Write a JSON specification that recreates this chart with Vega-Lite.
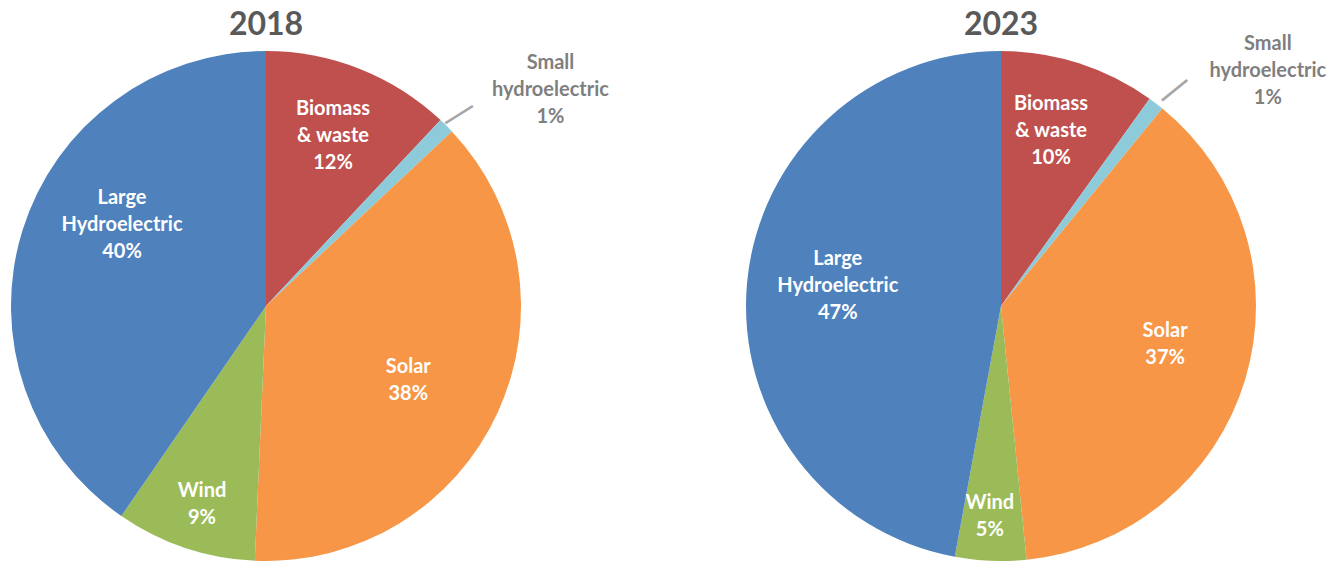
{
  "$schema": "https://vega.github.io/schema/vega-lite/v6.json",
  "padding": {"top": 9, "left": 0, "right": 0, "bottom": 0},
  "bounds": "flush",
  "background": "white",
  "config": {"view": {"stroke": null}, "concat": {"spacing": 203}},
  "datasets": {
    "shares": [
      {"year": "2018", "order": 1, "source": "Biomass & waste", "value": 12.0, "label": "Biomass\n& waste\n12%"},
      {"year": "2018", "order": 2, "source": "Small hydroelectric", "value": 1.0, "label": "Small\nhydroelectric\n1%"},
      {"year": "2018", "order": 3, "source": "Solar", "value": 37.7, "label": "Solar\n38%"},
      {"year": "2018", "order": 4, "source": "Wind", "value": 8.9, "label": "Wind\n9%"},
      {"year": "2018", "order": 5, "source": "Large Hydroelectric", "value": 40.4, "label": "Large\nHydroelectric\n40%"},
      {"year": "2023", "order": 1, "source": "Biomass & waste", "value": 9.9, "label": "Biomass\n& waste\n10%"},
      {"year": "2023", "order": 2, "source": "Small hydroelectric", "value": 1.0, "label": "Small\nhydroelectric\n1%"},
      {"year": "2023", "order": 3, "source": "Solar", "value": 37.5, "label": "Solar\n37%"},
      {"year": "2023", "order": 4, "source": "Wind", "value": 4.5, "label": "Wind\n5%"},
      {"year": "2023", "order": 5, "source": "Large Hydroelectric", "value": 47.1, "label": "Large\nHydroelectric\n47%"}
    ]
  },
  "hconcat": [
    {
      "width": 532,
      "height": 550,
      "title": {"text": "2018", "fontSize": 32, "font": "Lato", "fontWeight": "bold", "color": "#595959", "offset": -11},
      "data": {"name": "shares"},
      "transform": [
        {"filter": "datum.year === '2018'"},
        {"stack": "value", "sort": [{"field": "order"}], "groupby": [], "as": ["v0", "v1"]},
        {"calculate": "(datum.v0 + datum.v1) / 2", "as": "mid"}
      ],
      "layer": [
        {
          "mark": {"type": "arc", "outerRadius": 255},
          "encoding": {
            "theta": {"field": "v0", "type": "quantitative", "scale": {"domain": [0, 100]}},
            "theta2": {"field": "v1"},
            "color": {
              "field": "source", "type": "nominal", "legend": null,
              "scale": {
                "domain": ["Biomass & waste", "Small hydroelectric", "Solar", "Wind", "Large Hydroelectric"],
                "range": ["#C0504D", "#8DCBDB", "#F79646", "#9BBB59", "#4F81BD"]
              }
            }
          }
        },
        {
          "transform": [{"filter": "datum.source !== 'Small hydroelectric'"}],
          "mark": {"type": "text", "font": "Lato", "fontWeight": "bold", "fontSize": 20, "lineHeight": 27, "lineBreak": "\n", "fill": "white", "baseline": "middle",
            "radius": {"expr": "datum.source === 'Wind' ? 196 : datum.source === 'Biomass & waste' ? 208 : datum.source === 'Solar' ? 155 : 180"},
            "thetaOffset": {"expr": "datum.source === 'Wind' ? 0.009 : datum.source === 'Biomass & waste' ? -0.049 : datum.source === 'Solar' ? -0.023 : 0.342"}},
          "encoding": {
            "theta": {"field": "mid", "type": "quantitative"},
            "text": {"field": "label"}
          }
        },
        {
          "transform": [{"filter": "datum.source === 'Small hydroelectric'"}],
          "mark": {"type": "text", "font": "Lato", "fontWeight": "bold", "fontSize": 20, "lineHeight": 27, "lineBreak": "\n", "fill": "#7F7F7F", "baseline": "middle", "radius": 374, "thetaOffset": 0.079},
          "encoding": {
            "theta": {"field": "mid", "type": "quantitative"},
            "text": {"field": "label"}
          }
        },
        {
          "transform": [{"filter": "datum.source === 'Small hydroelectric'"}],
          "mark": {"type": "text", "font": "DejaVu Sans", "fontSize": 36, "fill": "#A6A6A6", "baseline": "middle", "radius": 272, "angle": 328, "text": "—"},
          "encoding": {
            "theta": {"field": "mid", "type": "quantitative"}
          }
        }
      ]
    },
    {
      "width": 532,
      "height": 550,
      "title": {"text": "2023", "fontSize": 32, "font": "Lato", "fontWeight": "bold", "color": "#595959", "offset": -11},
      "data": {"name": "shares"},
      "transform": [
        {"filter": "datum.year === '2023'"},
        {"stack": "value", "sort": [{"field": "order"}], "groupby": [], "as": ["v0", "v1"]},
        {"calculate": "(datum.v0 + datum.v1) / 2", "as": "mid"}
      ],
      "layer": [
        {
          "mark": {"type": "arc", "outerRadius": 255},
          "encoding": {
            "theta": {"field": "v0", "type": "quantitative", "scale": {"domain": [0, 100]}},
            "theta2": {"field": "v1"},
            "color": {
              "field": "source", "type": "nominal", "legend": null,
              "scale": {
                "domain": ["Biomass & waste", "Small hydroelectric", "Solar", "Wind", "Large Hydroelectric"],
                "range": ["#C0504D", "#8DCBDB", "#F79646", "#9BBB59", "#4F81BD"]
              }
            }
          }
        },
        {
          "transform": [{"filter": "datum.source !== 'Small hydroelectric'"}],
          "mark": {"type": "text", "font": "Lato", "fontWeight": "bold", "fontSize": 20, "lineHeight": 27, "lineBreak": "\n", "fill": "white", "baseline": "middle",
            "radius": {"expr": "datum.source === 'Wind' ? 197 : datum.source === 'Biomass & waste' ? 208 : datum.source === 'Solar' ? 166 : 170"},
            "thetaOffset": {"expr": "datum.source === 'Wind' ? 0.016 : datum.source === 'Biomass & waste' ? -0.068 : datum.source === 'Solar' ? -0.14 : 0.192"}},
          "encoding": {
            "theta": {"field": "mid", "type": "quantitative"},
            "text": {"field": "label"}
          }
        },
        {
          "transform": [{"filter": "datum.source === 'Small hydroelectric'"}],
          "mark": {"type": "text", "font": "Lato", "fontWeight": "bold", "fontSize": 20, "lineHeight": 27, "lineBreak": "\n", "fill": "#7F7F7F", "baseline": "middle", "radius": 374, "thetaOffset": 0.141},
          "encoding": {
            "theta": {"field": "mid", "type": "quantitative"},
            "text": {"field": "label"}
          }
        },
        {
          "transform": [{"filter": "datum.source === 'Small hydroelectric'"}],
          "mark": {"type": "text", "font": "DejaVu Sans", "fontSize": 36, "fill": "#A6A6A6", "baseline": "middle", "radius": 277, "angle": 321, "thetaOffset": 0.02, "text": "—"},
          "encoding": {
            "theta": {"field": "mid", "type": "quantitative"}
          }
        }
      ]
    }
  ]
}
